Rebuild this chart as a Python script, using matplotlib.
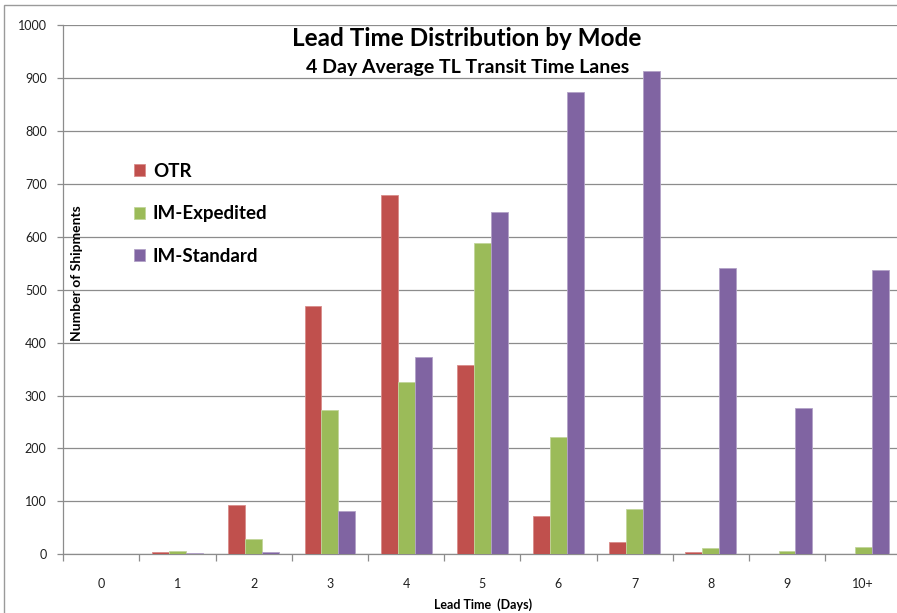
import matplotlib
matplotlib.use("Agg")
import matplotlib.pyplot as plt
from matplotlib.patches import Rectangle
import numpy as np

plt.rcParams['font.family'] = ['Lato', 'DejaVu Sans']

# Lead time buckets (days) and shipment counts per mode
categories = ['0', '1', '2', '3', '4', '5', '6', '7', '8', '9', '10+']
otr = [0, 4, 93, 470, 678, 358, 72, 23, 4, 0, 0]
im_expedited = [0, 6, 29, 272, 325, 589, 222, 86, 11, 6, 13]
im_standard = [0, 3, 4, 81, 373, 646, 874, 913, 541, 277, 537]
series_names = ['OTR', 'IM-Expedited', 'IM-Standard']
y_ticks = list(range(0, 1001, 100))

colors = ['#C0504D', '#9BBB59', '#8064A2']
edges = ['#D98C8A', '#C2D69B', '#B3A2C7']

W, H = 897, 613
fig = plt.figure(figsize=(W / 100, H / 100), dpi=100)

# chart frame
fig.patches.append(Rectangle((3.5 / W, -0.1), 1.2, 1 - 5.5 / H + 0.1,
                             transform=fig.transFigure, fill=False,
                             edgecolor='#9a9a9a', linewidth=1.0))

left, right, top, bottom = 63.3, 901.3, 25.0, 554.3
ax = fig.add_axes([left / W, 1 - bottom / H, (right - left) / W, (bottom - top) / H])

x = np.arange(len(categories))
bw = 1 / 4.5
data = [otr, im_expedited, im_standard]
handles = []
for i, (vals, c, ec, name) in enumerate(zip(data, colors, edges, series_names)):
    b = ax.bar(x + (i - 1) * bw, vals, width=bw, color=c, edgecolor=ec,
               linewidth=0.6, label=name, zorder=3)
    handles.append(b)

ax.set_xlim(-0.5, len(categories) - 0.5)
ax.set_ylim(0, 1000)
ax.set_yticks(y_ticks)
ax.set_yticklabels([str(v) for v in y_ticks])
ax.yaxis.grid(True, color='#8c8c8c', linewidth=0.9, zorder=1)
ax.set_axisbelow(True)

ax.set_xticks(x)
ax.set_xticklabels(categories)
ax.set_xticks(np.arange(-0.5, len(categories) + 0.5, 1), minor=True)
ax.tick_params(axis='x', which='major', length=0, pad=17, labelsize=9, labelcolor='#202020')
ax.tick_params(axis='x', which='minor', length=5, width=0.9, color='#8c8c8c', direction='out')
ax.tick_params(axis='y', which='major', length=4, width=0.9, color='#8c8c8c', pad=8,
               labelsize=9, labelcolor='#202020')

for s in ['top', 'right']:
    ax.spines[s].set_visible(False)
for s in ['left', 'bottom']:
    ax.spines[s].set_color('#8c8c8c')
    ax.spines[s].set_linewidth(0.9)

# titles
fig.text(467 / W, 1 - 38 / H, 'Lead Time Distribution by Mode', ha='center', va='center',
         fontsize=17.5, fontweight='bold', color='black')
fig.text(468 / W, 1 - 67 / H, '4 Day Average TL Transit Time Lanes', ha='center', va='center',
         fontsize=14, fontweight='bold', color='black')

# axis titles
fig.text(77 / W, 1 - 273 / H, 'Number of Shipments', ha='center', va='center', rotation=90,
         fontsize=10, fontweight='bold', color='black')
fig.text(483 / W, 1 - 605 / H, 'Lead Time  (Days)', ha='center', va='center',
         fontsize=9, fontweight='bold', color='black')

leg = fig.legend(handles=handles, labels=series_names, loc='upper left',
                 bbox_to_anchor=(134 / W, 1 - 163 / H), frameon=False,
                 prop={'weight': 'bold', 'size': 13.5},
                 handlelength=0.6, handleheight=0.6, handletextpad=0.4,
                 labelspacing=1.35, borderpad=0, borderaxespad=0)

fig.savefig('out.png', dpi=100)
